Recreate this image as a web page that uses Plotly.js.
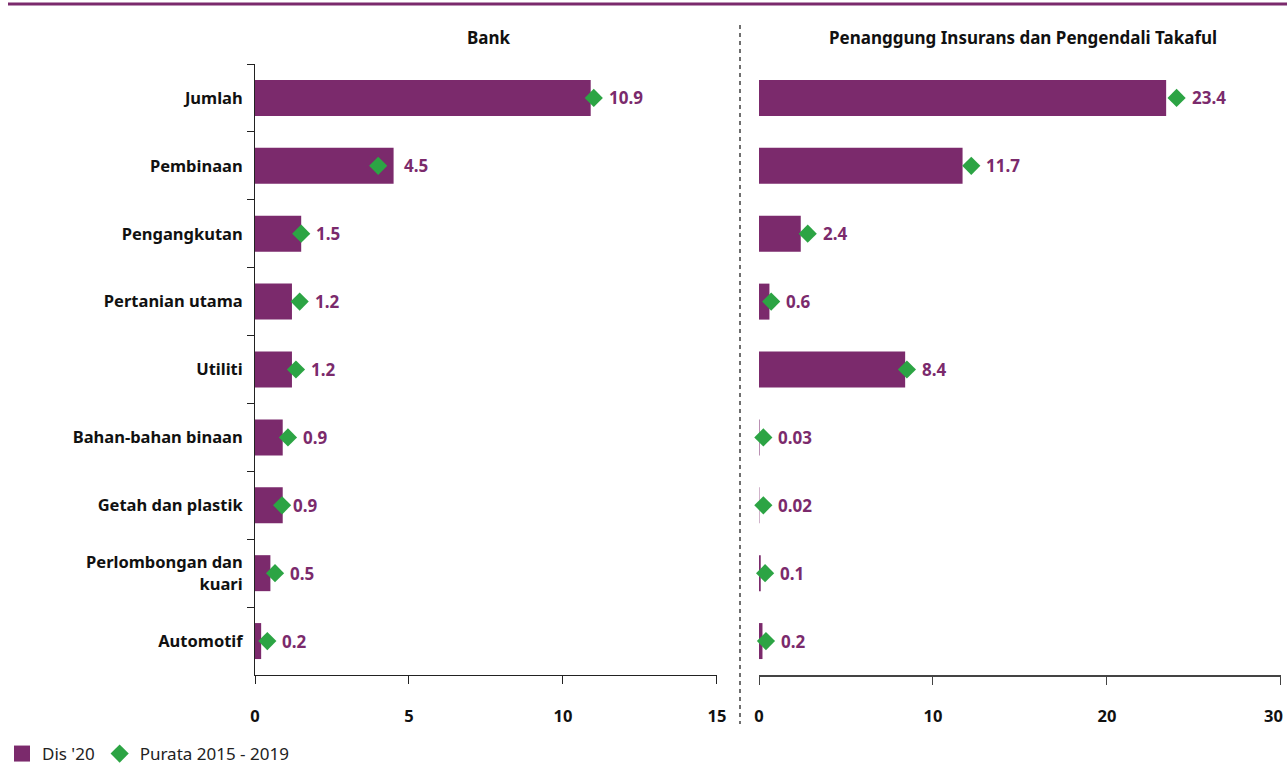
<!DOCTYPE html>
<html>
<head>
<meta charset="utf-8">
<script src="https://cdn.plot.ly/plotly-3.0.1.min.js"></script>
<style>html,body{margin:0;padding:0;background:#fff;}#chart{width:1287px;height:764px;}</style>
</head>
<body>
<div id="chart"></div>
<script>
const categories = ["Jumlah","Pembinaan","Pengangkutan","Pertanian utama","Utiliti","Bahan-bahan binaan","Getah dan plastik","Perlombongan dan<br>kuari","Automotif"];
const bankDis20 = [10.9, 4.5, 1.5, 1.2, 1.2, 0.9, 0.9, 0.5, 0.2];
const bankAvg = [11.0, 4.0, 1.5, 1.45, 1.33, 1.07, 0.88, 0.65, 0.4];
const insDis20 = [23.4, 11.7, 2.4, 0.6, 8.4, 0.03, 0.02, 0.1, 0.2];
const insAvg = [24.0, 12.2, 2.8, 0.7, 8.5, 0.25, 0.25, 0.35, 0.4];
const bankTicks = [0, 5, 10, 15];
const insTicks = [0, 10, 20, 30];
const panelTitles = ["Bank", "Penanggung Insurans dan Pengendali Takaful"];
const seriesNames = ["Dis '20", "Purata 2015 - 2019"];

const W = 1287, H = 764;
const px = v => v / W;
const py = v => 1 - v / H;
const PURPLE = "#7b2a6c";
const GREEN = "#2ca444";
const FONT = "Noto Sans, sans-serif";

const traces = [
  {type:"bar", orientation:"h", y:categories, x:bankDis20, marker:{color:PURPLE}, width:0.53, name:seriesNames[0], xaxis:"x", yaxis:"y", showlegend:false},
  {type:"scatter", mode:"markers", y:[null], x:[null], marker:{symbol:"square", color:PURPLE, size:22}, name:seriesNames[0], xaxis:"x", yaxis:"y", legendgroup:"a"},
  {type:"scatter", mode:"markers", y:categories, x:bankAvg, marker:{symbol:"diamond", color:GREEN, size:14}, name:seriesNames[1], xaxis:"x", yaxis:"y", legendgroup:"b", cliponaxis:false},
  {type:"bar", orientation:"h", y:categories, x:insDis20, marker:{color:PURPLE}, width:0.53, name:seriesNames[0], xaxis:"x2", yaxis:"y2", showlegend:false},
  {type:"scatter", mode:"markers", y:categories, x:insAvg, marker:{symbol:"diamond", color:GREEN, size:14}, name:seriesNames[1], xaxis:"x2", yaxis:"y2", showlegend:false, cliponaxis:false}
];

const annotations = [];
function addLabels(vals, avgs, xref, yref) {
  vals.forEach((v, i) => {
    const m = Math.max(v, avgs[i]);
    annotations.push({
      x: m, y: categories[i], xref: xref, yref: yref,
      text: String(v), showarrow:false, xanchor:"left",
      xshift: avgs[i] >= v ? 13 : 8,
      font:{family:FONT, size:17, color:PURPLE, weight:700}
    });
  });
}
addLabels(bankDis20, bankAvg, "x", "y");
addLabels(insDis20, insAvg, "x2", "y2");

annotations.push({x:px(489), y:py(38), xref:"paper", yref:"paper", text:panelTitles[0], showarrow:false, xanchor:"center", yanchor:"middle", font:{family:FONT, size:17, color:"#111", weight:700}});
annotations.push({x:px(1023), y:py(38), xref:"paper", yref:"paper", text:panelTitles[1], showarrow:false, xanchor:"center", yanchor:"middle", font:{family:FONT, size:17, color:"#111", weight:700}});

const tickFont = {family:FONT, size:16.5, color:"#111", weight:700};
const lastIns = insTicks[insTicks.length - 1];
// last tick label of the right axis sits flush with the figure edge, so it is right-anchored to its tick
annotations.push({x:lastIns, y:py(715), xref:"x2", yref:"paper", text:String(lastIns), showarrow:false, xanchor:"right", yanchor:"middle", xshift:4, font:tickFont});

const yDomain = [py(675), py(64)];

const layout = {
  width:W, height:H,
  margin:{l:0, r:0, t:0, b:0, pad:0, autoexpand:false},
  paper_bgcolor:"#fff", plot_bgcolor:"rgba(0,0,0,0)",
  font:{family:FONT, size:16, color:"#111"},
  barmode:"overlay",
  xaxis:{domain:[px(255), px(717)], range:[0, 15.001], tickmode:"array", tickvals:bankTicks, ticktext:bankTicks.map(String), showgrid:false, zeroline:false, showline:true, linecolor:"#222", linewidth:1, ticks:"outside", ticklen:8, tickcolor:"#222", tickfont:tickFont, ticklabelstandoff:18, anchor:"y", fixedrange:true},
  yaxis:{domain:yDomain, type:"category", categoryorder:"array", categoryarray:categories, range:[8.5, -0.5], showgrid:false, zeroline:false, showline:true, linecolor:"#222", linewidth:1, ticks:"outside", tickson:"boundaries", ticklen:7, tickcolor:"#222", tickfont:tickFont, ticklabelstandoff:8, anchor:"x", fixedrange:true},
  xaxis2:{domain:[px(759), px(1281)], range:[0, 30.001], tickmode:"array", tickvals:insTicks, ticktext:insTicks.map(t => t === lastIns ? "" : String(t)), showgrid:false, zeroline:false, showline:true, linecolor:"#444", linewidth:1.5, ticks:"outside", ticklen:8, tickcolor:"#444", tickfont:tickFont, ticklabelstandoff:18, anchor:"y2", fixedrange:true},
  yaxis2:{domain:yDomain, type:"category", categoryorder:"array", categoryarray:categories, range:[8.5, -0.5], showgrid:false, zeroline:false, showline:false, ticks:"", showticklabels:false, anchor:"x2", fixedrange:true},
  showlegend:true,
  legend:{orientation:"h", x:px(2), y:py(754), xanchor:"left", yanchor:"middle", font:{family:FONT, size:17, color:"#222"}, itemwidth:30, itemsizing:"trace", tracegroupgap:0, bgcolor:"rgba(0,0,0,0)"},
  annotations:annotations,
  shapes:[
    {type:"line", xref:"paper", yref:"paper", x0:px(8), x1:1, y0:py(4), y1:py(4), line:{color:PURPLE, width:3}},
    {type:"line", xref:"paper", yref:"paper", x0:px(740), x1:px(740), y0:py(25), y1:py(724), line:{color:"#111", width:1.2, dash:"4px,4px"}}
  ]
};

Plotly.newPlot("chart", traces, layout, {displayModeBar:false, staticPlot:true});
</script>
</body>
</html>
